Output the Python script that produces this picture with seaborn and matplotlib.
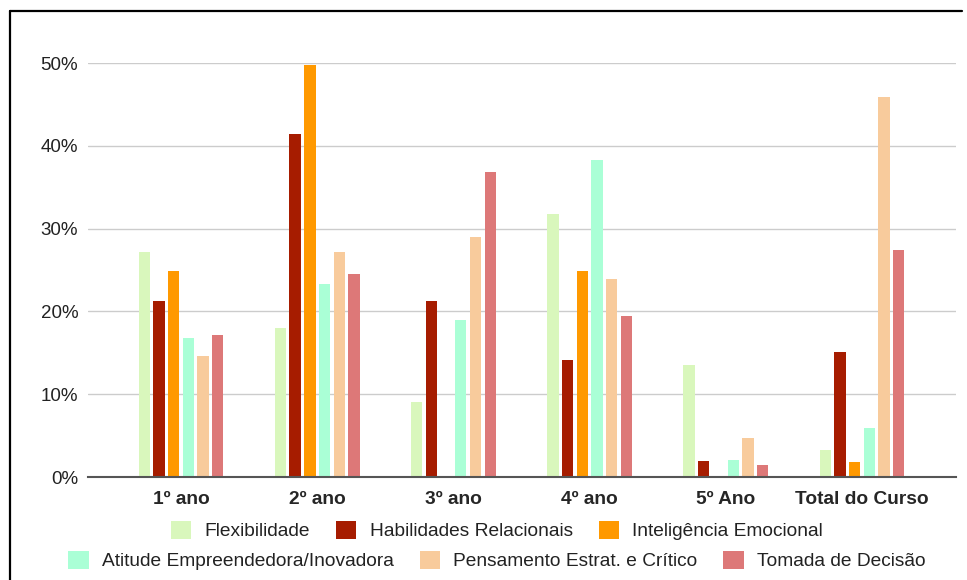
import numpy as np
import pandas as pd
import matplotlib
matplotlib.use("Agg")
import matplotlib.pyplot as plt
from matplotlib.patches import Patch
from matplotlib.lines import Line2D
from matplotlib.ticker import PercentFormatter
import seaborn as sns

# dados (fração)
anos = ["1º ano", "2º ano", "3º ano", "4º ano", "5º Ano", "Total do Curso"]
competencias = ["Flexibilidade", "Habilidades Relacionais", "Inteligência Emocional",
                "Atitude Empreendedora/Inovadora", "Pensamento Estrat. e Crítico",
                "Tomada de Decisão"]
flexibilidade = [0.272, 0.180, 0.090, 0.318, 0.135, 0.033]
habilidades = [0.212, 0.414, 0.212, 0.141, 0.019, 0.151]
inteligencia = [0.249, 0.498, 0.0, 0.249, 0.0, 0.018]
atitude = [0.168, 0.233, 0.190, 0.383, 0.021, 0.059]
pensamento = [0.146, 0.272, 0.290, 0.239, 0.047, 0.459]
tomada = [0.172, 0.245, 0.368, 0.194, 0.015, 0.274]
cores = ["#d9f7bc", "#a61c00", "#ff9900", "#aaffd6", "#f8cb9c", "#dd7878"]

series = [flexibilidade, habilidades, inteligencia, atitude, pensamento, tomada]
df = pd.DataFrame({
    "ano": np.tile(anos, len(competencias)),
    "comp": np.repeat(competencias, len(anos)),
    "valor": np.concatenate(series),
})

sns.set_style("white")
plt.rcParams["font.family"] = ["Liberation Sans", "DejaVu Sans"]

fig = plt.figure(figsize=(9.67, 5.8), dpi=100)
ax = fig.add_axes([88 / 967, 1 - 477 / 580, (956 - 88) / 967, (477 - 63) / 580])

sns.barplot(data=df, x="ano", y="valor", hue="comp", order=anos, hue_order=competencias,
            palette=cores, saturation=1, width=0.648, gap=0.23, linewidth=0,
            legend=False, ax=ax)

ax.set_xlim(-0.683, 5.69)
ax.set_ylim(0, 0.5)
ax.set_yticks(np.arange(0, 0.51, 0.1))
ax.yaxis.set_major_formatter(PercentFormatter(1.0, decimals=0))
ax.grid(axis="y", color="#cccccc", linewidth=1)
ax.set_axisbelow(True)
for s in ["top", "right", "left"]:
    ax.spines[s].set_visible(False)
ax.spines["bottom"].set_color("#555555")
ax.spines["bottom"].set_linewidth(1.5)
ax.spines["bottom"].set_zorder(5)
ax.set_xlabel("")
ax.set_ylabel("")
ax.tick_params(axis="y", length=0, pad=7, labelsize=13.5, labelcolor="#222222")
ax.tick_params(axis="x", length=0, pad=10, labelsize=13.8)
for t in ax.get_xticklabels():
    t.set_fontweight("bold")

# legenda em duas linhas centradas
def linha_legenda(idx, y):
    handles = [Patch(facecolor=cores[i], edgecolor="none", label=competencias[i]) for i in idx]
    leg = fig.legend(handles=handles, loc="center", bbox_to_anchor=(0.514, y), ncol=3,
                     frameon=False, fontsize=13.8, handlelength=1.05, handleheight=1.05,
                     handletextpad=0.7, columnspacing=1.35, borderpad=0)
    for t in leg.get_texts():
        t.set_color("#222222")
    return leg

linha_legenda([0, 1, 2], 1 - 530.7 / 580)
linha_legenda([3, 4, 5], 1 - 560.7 / 580)

# moldura preta (esquerda e topo)
fig.add_artist(Line2D([10 / 967, 10 / 967], [0, 1 - 11 / 580], color="black", linewidth=1.6,
                      transform=fig.transFigure))
fig.add_artist(Line2D([10 / 967, 962 / 967], [1 - 11 / 580, 1 - 11 / 580], color="black",
                      linewidth=1.6, transform=fig.transFigure))

fig.savefig("out.png", dpi=100)
